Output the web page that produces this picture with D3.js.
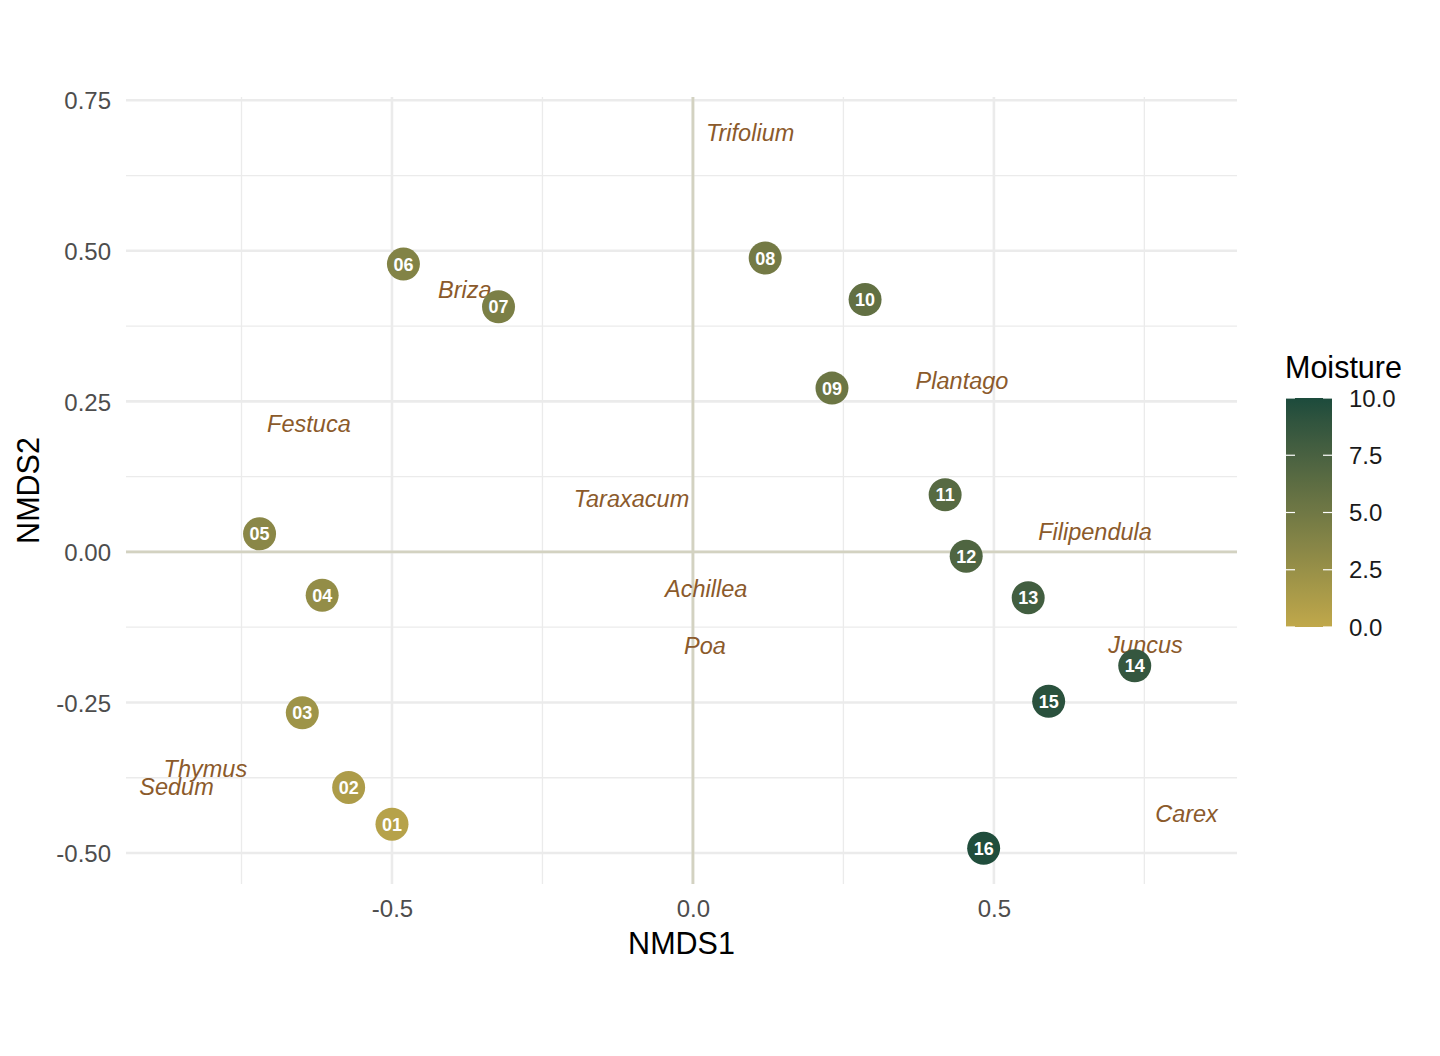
<!DOCTYPE html>
<html>
<head>
<meta charset="utf-8">
<script src="https://cdn.jsdelivr.net/npm/d3@7"></script>
<style>
  html, body { margin: 0; padding: 0; background: #ffffff; }
  svg { display: block; font-family: "Liberation Sans", Arial, Helvetica, sans-serif; }
</style>
</head>
<body>
<svg id="chart" width="1440" height="1056"></svg>
<script>
// ---- data ----
const sites = ["01","02","03","04","05","06","07","08","09","10","11","12","13","14","15","16"];
const siteX = [-0.500, -0.572, -0.649, -0.616, -0.720, -0.481, -0.323, 0.120, 0.231, 0.286, 0.419, 0.454, 0.557, 0.734, 0.591, 0.483];
const siteY = [-0.452, -0.391, -0.267, -0.072, 0.030, 0.478, 0.407, 0.488, 0.272, 0.419, 0.095, -0.007, -0.076, -0.189, -0.248, -0.492];
const moisture = [0.6, 1.2, 2.1, 2.8, 3.4, 3.9, 4.3, 4.8, 5.3, 5.9, 6.6, 7.1, 7.9, 8.7, 9.3, 9.8];

const species = ["Trifolium","Briza","Plantago","Festuca","Taraxacum","Filipendula","Achillea","Poa","Juncus","Thymus","Sedum","Carex"];
const speciesX = [0.095, -0.379, 0.447, -0.638, -0.102, 0.668, 0.022, 0.020, 0.752, -0.810, -0.858, 0.820];
const speciesY = [0.696, 0.435, 0.284, 0.213, 0.089, 0.034, -0.060, -0.155, -0.153, -0.359, -0.389, -0.434];

const xMajor = [-0.5, 0.0, 0.5];
const xMinor = [-0.75, -0.25, 0.25, 0.75];
const yMajor = [-0.5, -0.25, 0.0, 0.25, 0.5, 0.75];
const yMinor = [-0.375, -0.125, 0.125, 0.375, 0.625];
const legendTicks = [0, 2.5, 5, 7.5, 10];

// ---- scales ----
const svg = d3.select("#chart");
const panel = { left: 126, right: 1237, top: 97, bottom: 884 };

const allX = siteX.concat(speciesX), allY = siteY.concat(speciesY);
function expand(ext) { const d = (ext[1] - ext[0]) * 0.05; return [ext[0] - d, ext[1] + d]; }
const x = d3.scaleLinear().domain(expand(d3.extent(allX))).range([panel.left, panel.right]);
const y = d3.scaleLinear().domain(expand(d3.extent(allY))).range([panel.bottom, panel.top]);
const color = d3.scaleLinear().domain([0, 10]).range(["#c0a84a", "#1c4b3c"]).interpolate(d3.interpolateLab);
const fmt = p => (v => d3.format(p)(v).replace("\u2212", "-"));

// ---- grid ----
const grid = svg.append("g");
grid.selectAll(".xmin").data(xMinor).join("line")
  .attr("x1", d => x(d)).attr("x2", d => x(d)).attr("y1", panel.top).attr("y2", panel.bottom)
  .attr("stroke", "#ebebeb").attr("stroke-width", 1.3);
grid.selectAll(".ymin").data(yMinor).join("line")
  .attr("y1", d => y(d)).attr("y2", d => y(d)).attr("x1", panel.left).attr("x2", panel.right)
  .attr("stroke", "#ebebeb").attr("stroke-width", 1.3);
grid.selectAll(".xmaj").data(xMajor).join("line")
  .attr("x1", d => x(d)).attr("x2", d => x(d)).attr("y1", panel.top).attr("y2", panel.bottom)
  .attr("stroke", "#ebebeb").attr("stroke-width", 2.6);
grid.selectAll(".ymaj").data(yMajor).join("line")
  .attr("y1", d => y(d)).attr("y2", d => y(d)).attr("x1", panel.left).attr("x2", panel.right)
  .attr("stroke", "#ebebeb").attr("stroke-width", 2.6);

// zero reference lines
svg.append("line").attr("x1", panel.left).attr("x2", panel.right).attr("y1", y(0)).attr("y2", y(0))
  .attr("stroke", "#d3d2c1").attr("stroke-width", 2.8);
svg.append("line").attr("x1", x(0)).attr("x2", x(0)).attr("y1", panel.top).attr("y2", panel.bottom)
  .attr("stroke", "#d3d2c1").attr("stroke-width", 2.8);

// ---- axes (tick labels) ----
const xAxis = d3.axisBottom(x).tickValues(xMajor).tickFormat(fmt(".1f")).tickSize(0).tickPadding(0);
const gx = svg.append("g").attr("transform", `translate(0,${panel.bottom})`).call(xAxis);
gx.select(".domain").remove();
gx.selectAll("text").attr("font-size", 24).attr("fill", "#4d4d4d")
  .attr("font-family", "'Liberation Sans', Arial, sans-serif").attr("dy", null).attr("y", 33);

const yAxis = d3.axisLeft(y).tickValues(yMajor).tickFormat(fmt(".2f")).tickSize(0).tickPadding(0);
const gy = svg.append("g").attr("transform", `translate(${panel.left},0)`).call(yAxis);
gy.select(".domain").remove();
gy.selectAll("text").attr("font-size", 24).attr("fill", "#4d4d4d")
  .attr("font-family", "'Liberation Sans', Arial, sans-serif").attr("x", -15).attr("dy", "0.36em");

svg.append("text").attr("x", (panel.left + panel.right) / 2).attr("y", 954)
  .attr("text-anchor", "middle").attr("font-size", 30.5).attr("fill", "#000").text("NMDS1");
svg.append("text").attr("transform", `translate(39,${(panel.top + panel.bottom) / 2}) rotate(-90)`)
  .attr("text-anchor", "middle").attr("font-size", 30.5).attr("fill", "#000").text("NMDS2");

// ---- species labels ----
svg.append("g").selectAll("text").data(species).join("text")
  .attr("x", (d, i) => x(speciesX[i])).attr("y", (d, i) => y(speciesY[i]))
  .attr("dy", "0.36em").attr("text-anchor", "middle")
  .attr("font-size", 23.5).attr("font-style", "italic").attr("fill", "#8b5a2b")
  .text(d => d);

// ---- site points ----
const pts = svg.append("g").selectAll("g").data(sites).join("g")
  .attr("transform", (d, i) => `translate(${x(siteX[i])},${y(siteY[i])})`);
pts.append("circle").attr("r", 16.5).attr("fill", (d, i) => color(moisture[i]));
pts.append("text").attr("text-anchor", "middle").attr("dy", "0.36em")
  .attr("font-size", 18).attr("font-weight", "bold").attr("fill", "#ffffff").text(d => d);

// ---- legend ----
const bar = { x: 1286, w: 46, top: 398, bottom: 627 };
const ly = d3.scaleLinear().domain([0, 10]).range([bar.bottom, bar.top]);
const defs = svg.append("defs");
const grad = defs.append("linearGradient").attr("id", "mgrad")
  .attr("x1", 0).attr("y1", 1).attr("x2", 0).attr("y2", 0);
d3.range(0, 10.01, 0.5).forEach(v => {
  grad.append("stop").attr("offset", v / 10).attr("stop-color", color(v));
});
svg.append("text").attr("x", 1285).attr("y", 378).attr("font-size", 30.5).attr("fill", "#000").text("Moisture");
svg.append("rect").attr("x", bar.x).attr("y", bar.top).attr("width", bar.w).attr("height", bar.bottom - bar.top)
  .attr("fill", "url(#mgrad)");
const lt = svg.append("g").selectAll("g").data(legendTicks).join("g");
lt.append("line").attr("x1", bar.x).attr("x2", bar.x + 9).attr("y1", d => ly(d)).attr("y2", d => ly(d))
  .attr("stroke", "#ffffff").attr("stroke-width", 1.2);
lt.append("line").attr("x1", bar.x + bar.w - 9).attr("x2", bar.x + bar.w).attr("y1", d => ly(d)).attr("y2", d => ly(d))
  .attr("stroke", "#ffffff").attr("stroke-width", 1.2);
lt.append("text").attr("x", 1349).attr("y", d => ly(d)).attr("dy", "0.36em")
  .attr("font-size", 24).attr("fill", "#1a1a1a").text(d => fmt(".1f")(d));
</script>
</body>
</html>
